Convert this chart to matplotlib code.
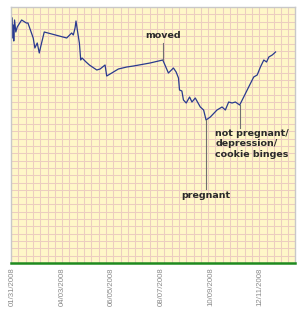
import numpy as np
import matplotlib.pyplot as plt

# days after 01/31/2008, and a relative weight reading (arbitrary units)
days = [0, 0.6, 1.3, 2.0, 3, 4.6, 6.4, 12, 18, 20, 26.7, 28.8, 31.8, 34.4, 36.1, 40.7,
        69.2, 75.5, 77.6, 79.8, 81, 82.7, 85.3, 87, 88.7, 93.8, 98, 107.4, 111.6, 117.9,
        120, 126.4, 134.8, 145.5, 154, 175, 191.2, 198.3, 204.7, 208.1, 211.1, 212.4,
        215.4, 217.4, 220.9, 225.2, 228.2, 232.4, 238.8, 243, 246.1, 251.5, 260, 266.4,
        270.6, 274.8, 279.1, 283.3, 288.8, 293.9, 300.2, 306.6, 311, 315.1, 319.4,
        322.9, 325.8, 330.1, 334.3]
weight = [245, 225, 238, 222, 243, 231, 236, 243, 240, 240, 225, 215, 220, 210, 216, 231,
          225, 230, 228, 235, 242, 233, 220, 203, 205, 201, 198, 193, 194, 198, 187,
          190, 194, 196, 197, 200, 203, 190, 195, 191, 185, 173, 172, 163, 160, 166,
          161, 165, 156, 153, 143, 146, 153, 156, 153, 161, 160, 161, 158, 166, 176,
          186, 188, 196, 203, 201, 206, 208, 211]

start = np.datetime64('2008-01-31')
dates = start + (np.array(days) * 24 * 3600).astype('timedelta64[s]')
tick_labels = ['01/31/2008', '04/03/2008', '06/05/2008', '08/07/2008', '10/09/2008', '12/11/2008']
tick_dates = [np.datetime64(f'{s[6:]}-{s[:2]}-{s[3:5]}') for s in tick_labels]

fig = plt.figure(figsize=(3.03, 3.20), dpi=100)
pos = [11/303, 57/320, 284/303, 256/320]

# graph-paper background
bg = fig.add_axes(pos, zorder=0)
bg.set_facecolor('#FFF7C8')
bg.set_xlim(0, 38.9)
bg.set_ylim(0, 35)
for i in range(1, 39):
    bg.axvline(i, color='#ECCDC0', lw=0.75)
for j in range(1, 35):
    bg.axhline(j, color='#ECCDC0', lw=0.75)
bg.set_xticks([])
bg.set_yticks([])
for s in bg.spines.values():
    s.set_visible(False)

ax = fig.add_axes(pos, zorder=1)
ax.patch.set_alpha(0)
ax.plot(dates, weight, color='#2A3A8E', lw=0.9)

ax.set_xlim(np.datetime64('2008-01-29T12'), np.datetime64('2009-01-24'))
ax.set_ylim(0, 256)
ax.set_yticks([])
ax.set_xticks(tick_dates)
ax.set_xticklabels(tick_labels, rotation=90, fontsize=5.6, color='#8A8A8A',
                   family='Liberation Sans')
ax.tick_params(axis='x', length=0, pad=3)

ax.spines['bottom'].set_color('#1F8A1F')
ax.spines['bottom'].set_linewidth(1.8)
for k in ['left', 'top', 'right']:
    ax.spines[k].set_color('#C8C8C8')
    ax.spines[k].set_linewidth(1.0)

font = dict(fontsize=6.8, color='#2A2A2A', family='DejaVu Sans', fontweight='semibold')
lc = '#707070'

# moved
i_moved = 36
ax.plot([dates[i_moved]] * 2, [weight[i_moved], 220], color=lc, lw=0.8)
ax.text(dates[i_moved], 228, 'moved', ha='center', va='center', **font)

# pregnant
i_preg = int(np.argmin(weight))
ax.plot([dates[i_preg]] * 2, [weight[i_preg], 74], color=lc, lw=0.8)
ax.text(dates[i_preg], 67, 'pregnant', ha='center', va='center', **font)

# not pregnant
i_not = 58
ax.plot([dates[i_not]] * 2, [weight[i_not], 135], color=lc, lw=0.8)
ax.text(dates[i_not] - np.timedelta64(31, 'D'), 134, 'not pregnant/\ndepression/\ncookie binges',
        ha='left', va='top', linespacing=1.2, **font)

fig.savefig('out.png', dpi=100)
